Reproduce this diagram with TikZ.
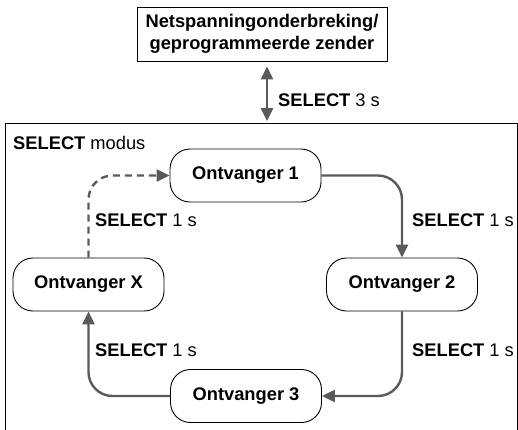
\documentclass[tikz,border=0pt]{standalone}
\usepackage{fontspec}
\setmainfont{Liberation Sans}
\usetikzlibrary{arrows.meta}
\definecolor{arrowgray}{HTML}{5A5A5A}
\newcommand\diagsize{\fontsize{18.3}{22.5}\selectfont}
\tikzset{
  recvbox/.style={draw, rounded corners=20pt, minimum width=151pt, minimum height=53pt, font=\diagsize\bfseries, line width=0.9pt},
  resetbox/.style={draw, minimum width=250pt, minimum height=54pt, align=center, font=\diagsize\bfseries, line width=0.9pt, inner sep=0pt},
  flow/.style={arrowgray, line width=2.4pt, rounded corners=24pt, -{Triangle[length=13pt,width=12pt]}},
  lbl/.style={anchor=west, inner sep=0pt, font=\diagsize},
}

\begin{document}
\begin{tikzpicture}[x=1pt, y=-1pt]
    \useasboundingbox (0,0) rectangle (518,429);

    % Power cut / programmed transmitter
    \node[resetbox] (reset) at (262,34) {Netspanningonderbreking/\\geprogrammeerde zender};

    % Frame of the select mode
    \draw[line width=1pt] (5,432) -- (5,123) -- (517.5,123) -- (517.5,432);
    \coordinate (frametop) at (267,123);
    \node[lbl] (modus) at (13,143) {\textbf{SELECT} modus};

    % Link into the select mode
    \draw[arrowgray, line width=2.6pt, {Triangle[length=13pt,width=12pt]}-{Triangle[length=13pt,width=12pt]}, shorten <=5pt, shorten >=2pt] (reset.south -| frametop) -- (frametop);
    \node[lbl] (hold) at (278,100) {\textbf{SELECT} 3 s};

    % Receivers
    \node[recvbox] (r1) at (245.5,175.5) {Ontvanger 1};
    \node[recvbox] (r2) at (402,284.5) {Ontvanger 2};
    \node[recvbox] (r3) at (246,396) {Ontvanger 3};
    \node[recvbox] (rx) at (88.5,284.5) {Ontvanger X};

    % Steps between receivers
    \draw[flow] (r1.east) -| (r2.north);
    \draw[flow] (r2.south) |- (r3.east);
    \draw[flow] (r3.west) -| (rx.south);
    \draw[flow, dash pattern=on 7pt off 5pt] (rx.north) |- (r1.west);

    % Labels
    \node[lbl] (s12) at (412,220) {\textbf{SELECT} 1 s};
    \node[lbl] (s23) at (412,350) {\textbf{SELECT} 1 s};
    \node[lbl] (s3x) at (95,350) {\textbf{SELECT} 1 s};
    \node[lbl] (sx1) at (95,220) {\textbf{SELECT} 1 s};

\end{tikzpicture}
\end{document}
